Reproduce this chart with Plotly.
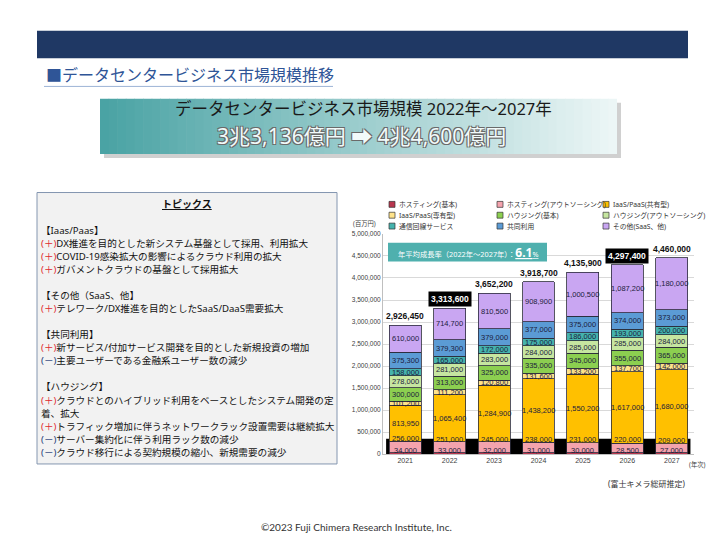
import plotly.graph_objects as go

# ---------------- data ----------------
years = ["2021", "2022", "2023", "2024", "2025", "2026", "2027"]
series_names = ["ホスティング(基本)", "ホスティング(アウトソーシング)", "IaaS/PaaS(共有型)",
                "IaaS/PaaS(専有型)", "ハウジング(基本)", "ハウジング(アウトソーシング)",
                "通信回線サービス", "共同利用", "その他(SaaS、他)"]
hosting_basic = [34000, 33000, 32000, 31000, 30000, 28500, 27000]
hosting_out = [256000, 251000, 245000, 238000, 231000, 220000, 209000]
iaas_shared = [813950, 1065400, 1284900, 1438200, 1550200, 1617000, 1680000]
iaas_dedicated = [101200, 111200, 120800, 131600, 133200, 137700, 142000]
housing_basic = [300000, 313000, 325000, 335000, 345000, 355000, 365000]
housing_out = [278000, 281000, 283000, 284000, 285000, 285000, 284000]
network = [158000, 165000, 172000, 175000, 186000, 193000, 200000]
shared_use = [375300, 379300, 379000, 377000, 375000, 374000, 373000]
other = [610000, 714700, 810500, 908900, 1000500, 1087200, 1180000]
totals = [2926450, 3313600, 3652200, 3918700, 4135900, 4297400, 4460000]
boxed_totals = ["2022", "2026"]
cagr_text = "6.1"

series_values = [hosting_basic, hosting_out, iaas_shared, iaas_dedicated, housing_basic,
                 housing_out, network, shared_use, other]
colors = ["#b8364e", "#f4a3ad", "#ffc000", "#ffe38a", "#8ccf50",
          "#c6e6a0", "#45b3ad", "#5b9bd5", "#c9a6f2"]
label_shift = [2.5, 8, 0, 0, 0, 0, 0, 0, 0]

topic_title = "トピックス"
PLUS = "<span style='color:#e0282e'>(＋)</span>"
MINUS = "<span style='color:#1f3c78'>(－)</span>"
topic_lines = [
    "【Iaas/Paas】",
    PLUS + "DX推進を目的とした新システム基盤として採用、利用拡大",
    PLUS + "COVID-19感染拡大の影響によるクラウド利用の拡大",
    PLUS + "ガバメントクラウドの基盤として採用拡大",
    "",
    "【その他（SaaS、他】",
    PLUS + "テレワーク/DX推進を目的としたSaaS/DaaS需要拡大",
    "",
    "【共同利用】",
    PLUS + "新サービス/付加サービス開発を目的とした新規投資の増加",
    MINUS + "主要ユーザーである金融系ユーザー数の減少",
    "",
    "【ハウジング】",
    PLUS + "クラウドとのハイブリッド利用をベースとしたシステム開発の定",
    "着、拡大",
    PLUS + "トラフィック増加に伴うネットワークラック設置需要は継続拡大",
    MINUS + "サーバー集約化に伴う利用ラック数の減少",
    MINUS + "クラウド移行による契約規模の縮小、新規需要の減少",
]

W, H = 720, 540
JP = "Noto Sans, Noto Sans CJK JP, sans-serif"
NUM = "Liberation Sans, Arial, sans-serif"


def px(x):
    return x / W


def py(y):
    return 1 - y / H


fig = go.Figure()
for name, vals, col in zip(series_names, series_values, colors):
    fig.add_trace(go.Bar(x=years, y=vals, name=name, marker=dict(color=col, line=dict(color="#2a2a3a", width=0.8)),
                         showlegend=False, hoverinfo="x+y+name"))

shapes = []
annotations = []

# navy banner
shapes.append(dict(type="rect", xref="paper", yref="paper", x0=px(37), x1=px(688), y0=py(55), y1=py(27),
                   fillcolor="#1f3864", line=dict(width=0), layer="below"))
# heading
annotations.append(dict(xref="paper", yref="paper", x=px(44), y=py(72), xanchor="left", yanchor="middle",
                        text="■データセンタービジネス市場規模推移", showarrow=False,
                        font=dict(family=JP, size=16, color="#2f5597")))
shapes.append(dict(type="line", xref="paper", yref="paper", x0=px(44), x1=px(333), y0=py(83.5), y1=py(83.5),
                   line=dict(color="#9db4d6", width=1)))

# teal gradient box
shapes.append(dict(type="rect", xref="paper", yref="paper", x0=px(104), x1=px(621), y0=py(156), y1=py(100),
                   fillcolor="#d0d0d0", line=dict(width=0), layer="below"))
n = 60
c0, c1 = (74, 163, 164), (236, 246, 246)
bx0, bx1 = 100, 617
for i in range(n):
    t = i / (n - 1)
    c = tuple(int(round(a + (b - a) * t)) for a, b in zip(c0, c1))
    xa = bx0 + (bx1 - bx0) * i / n
    xb = bx0 + (bx1 - bx0) * (i + 1) / n + 0.6
    shapes.append(dict(type="rect", xref="paper", yref="paper", x0=px(xa), x1=px(min(xb, bx1)), y0=py(152), y1=py(96),
                       fillcolor="rgb(%d,%d,%d)" % c, line=dict(width=0), layer="below"))
annotations.append(dict(xref="paper", yref="paper", x=px(363), y=py(106), xanchor="center", yanchor="middle",
                        text="データセンタービジネス市場規模 2022年～2027年", showarrow=False,
                        font=dict(family=JP, size=16.5, color="#1a1a1a")))
annotations.append(dict(xref="paper", yref="paper", x=px(361), y=py(134), xanchor="center", yanchor="middle",
                        text="3兆3,136億円 ➡ 4兆4,600億円", showarrow=False,
                        font=dict(family=JP, size=21, color="#f2fafa",
                                  shadow="-1px -1px 0 #6a6a6a, 1px -1px 0 #6a6a6a, -1px 1px 0 #6a6a6a, 1px 1px 0 #6a6a6a")))

# topics box
shapes.append(dict(type="rect", xref="paper", yref="paper", x0=px(37), x1=px(337), y0=py(466), y1=py(191),
                   fillcolor="#f2f2f2", line=dict(color="#8496b0", width=1), layer="below"))
annotations.append(dict(xref="paper", yref="paper", x=px(187), y=py(203), xanchor="center", yanchor="middle",
                        text="<b><u>" + topic_title + "</u></b>", showarrow=False,
                        font=dict(family=JP, size=10, color="#111111")))
y0 = 229
for i, line in enumerate(topic_lines):
    if line:
        annotations.append(dict(xref="paper", yref="paper", x=px(39), y=py(y0 + i * 13.25), xanchor="left",
                                yanchor="middle", text=line, showarrow=False,
                                font=dict(family=JP, size=9.6, color="#111111")))

# chart black band behind the base of the bars
shapes.append(dict(type="rect", xref="x", yref="y", x0=-0.43, x1=6.42, y0=0, y1=350000,
                   fillcolor="#000000", line=dict(width=0), layer="between"))

# segment labels (x as category index)
for si, vals in enumerate(series_values):
    for xi in range(len(years)):
        base = sum(series_values[k][xi] for k in range(si))
        annotations.append(dict(xref="x", yref="y", x=xi, y=base + vals[xi] / 2, yshift=label_shift[si],
                                text=f"{vals[xi]:,}", showarrow=False, xanchor="center", yanchor="middle",
                                font=dict(family=NUM, size=7.5, color="#1c1c3c")))
# totals
for xi, (yr, tot) in enumerate(zip(years, totals)):
    if yr in boxed_totals:
        annotations.append(dict(xref="x", yref="y", x=xi, y=tot, yshift=1, yanchor="bottom",
                                text=f"<b>{tot:,}</b>", showarrow=False, bgcolor="#000000",
                                borderpad=2, font=dict(family=NUM, size=8.5, color="#ffffff")))
    else:
        annotations.append(dict(xref="x", yref="y", x=xi, y=tot, yshift=2, yanchor="bottom",
                                text=f"<b>{tot:,}</b>", showarrow=False,
                                font=dict(family=NUM, size=8.5, color="#111111")))

# CAGR box
shapes.append(dict(type="rect", xref="paper", yref="paper", x0=px(388), x1=px(547), y0=py(261), y1=py(242),
                   fillcolor="#4fb0ae", line=dict(width=0)))
annotations.append(dict(xref="paper", yref="paper", x=px(396), y=py(251.5), xanchor="left", yanchor="middle",
                        text="年平均成長率（2022年～2027年）：<u><b><span style='font-size:12px'>" + cagr_text
                             + "</span></b>%</u>", showarrow=False,
                        font=dict(family=JP, size=7.3, color="#ffffff")))

# custom legend
leg_cols = [389, 497, 603]
leg_rows = [203, 214, 225]
for i, (name, col) in enumerate(zip(series_names, colors)):
    cx = leg_cols[i % 3]
    ry = leg_rows[i // 3]
    shapes.append(dict(type="rect", xref="paper", yref="paper", x0=px(cx), x1=px(cx + 6), y0=py(ry + 3),
                       y1=py(ry - 3), fillcolor=col, line=dict(color="#333333", width=0.7)))
    annotations.append(dict(xref="paper", yref="paper", x=px(cx + 7.5), y=py(ry), xanchor="left", yanchor="middle",
                            text=name, showarrow=False, font=dict(family=JP, size=6.8, color="#333333")))

annotations.append(dict(xref="paper", yref="paper", x=px(364), y=py(222), xanchor="center", yanchor="middle",
                        text="(百万円)", showarrow=False, font=dict(family=JP, size=6.3, color="#404040")))
annotations.append(dict(xref="paper", yref="paper", x=px(697), y=py(467), xanchor="center", yanchor="middle",
                        text="(年次)", showarrow=False, font=dict(family=JP, size=6.3, color="#404040")))
annotations.append(dict(xref="paper", yref="paper", x=px(646), y=py(486), xanchor="center", yanchor="middle",
                        text="(富士キメラ総研推定)", showarrow=False, font=dict(family=JP, size=8, color="#333333")))
annotations.append(dict(xref="paper", yref="paper", x=px(356), y=py(530), xanchor="center", yanchor="middle",
                        text="©2023 Fuji Chimera Research Institute, Inc.", showarrow=False,
                        font=dict(family="Lato", size=10, color="#333333")))

fig.update_layout(
    width=W, height=H, autosize=False,
    margin=dict(l=0, r=0, t=0, b=0),
    paper_bgcolor="#ffffff", plot_bgcolor="#ffffff",
    barmode="stack", bargap=0.28,
    showlegend=False,
    shapes=shapes, annotations=annotations,
    xaxis=dict(domain=[px(383), px(694)], type="category", categoryorder="array", categoryarray=years,
               range=[-0.5, 6.5], showline=True, linecolor="#bfbfbf", linewidth=1, ticks="",
               tickfont=dict(family=NUM, size=7, color="#404040"), showgrid=False, fixedrange=True),
    yaxis=dict(domain=[py(456), py(233)], range=[0, 5000000], dtick=500000, tickformat=",",
               showline=True, linecolor="#bfbfbf", linewidth=1, gridcolor="#d9d9d9", gridwidth=1,
               zeroline=False, ticks="", tickfont=dict(family=NUM, size=6.5, color="#404040"), fixedrange=True),
)

fig.write_html("out.html")
